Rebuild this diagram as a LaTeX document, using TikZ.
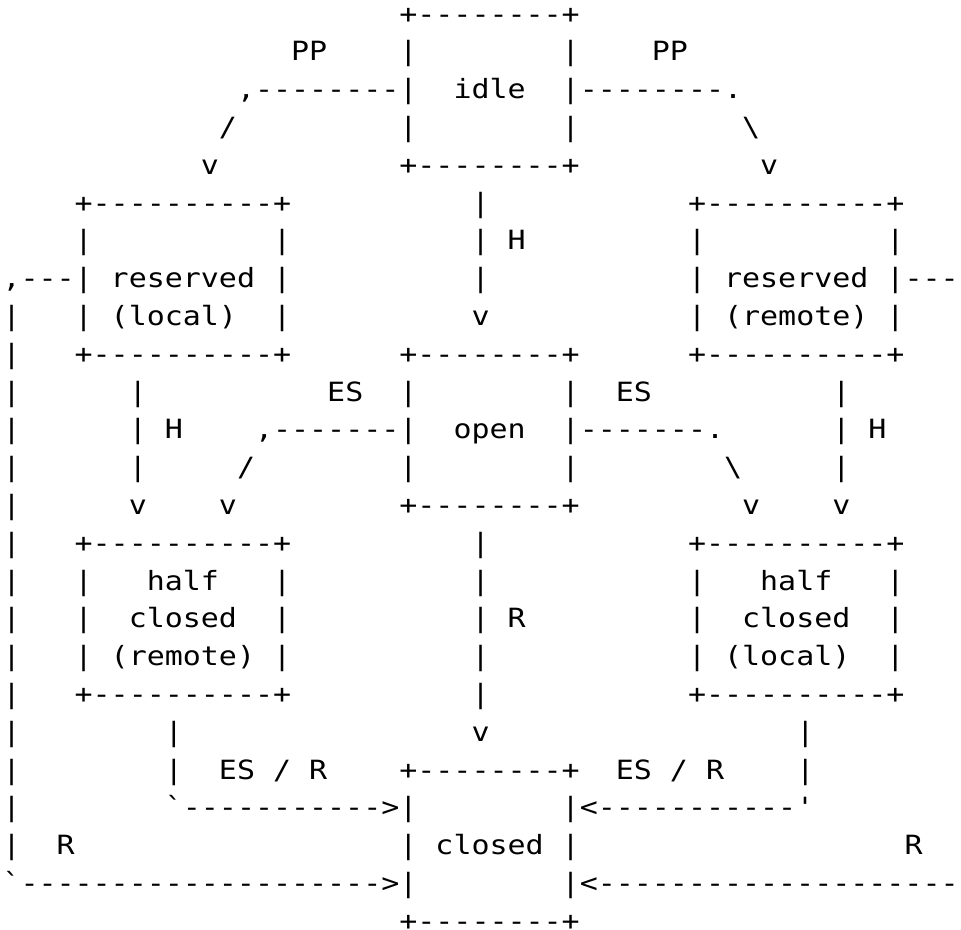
\documentclass[tikz,border=0pt]{standalone}
\usepackage{fontspec}
% monospaced face, widened so that one cell is 18.04pt
\setmonofont{DejaVu Sans Mono}[FakeStretch=1.1307]

% grid of the character cells: left edge, cell width, first baseline, line pitch
\newcommand\colzero{2.5}
\newcommand\colw{18.04}
\newcommand\rowzero{905.8}
\newcommand\rowh{37.8}
% \asc{row}{column}{characters}: one run of characters on the grid
\newcommand\asc[3]{\node[ascii] (r#1c#2) at ({\colzero+#2*\colw},{\rowzero-(#1-1)*\rowh}) {#3};}

\begin{document}
\begin{tikzpicture}[x=1pt,y=1pt,
  ascii/.style={anchor=base west,inner sep=0pt,outer sep=0pt,
    font=\ttfamily\fontsize{26.5}{30}\selectfont,text=black}]
\fill[white] (0,0) rectangle (961,929);
\useasboundingbox (0,0) rectangle (961,929);

% idle
\asc{1}{22}{+--------+}
\asc{2}{16}{PP}\asc{2}{22}{|}\asc{2}{31}{|}\asc{2}{36}{PP}
\asc{3}{13}{,--------|}\asc{3}{25}{idle}\asc{3}{31}{|--------.}
\asc{4}{12}{/}\asc{4}{22}{|}\asc{4}{31}{|}\asc{4}{41}{\textbackslash}
\asc{5}{11}{v}\asc{5}{22}{+--------+}\asc{5}{42}{v}

% reserved (local) / reserved (remote)
\asc{6}{4}{+----------+}\asc{6}{26}{|}\asc{6}{38}{+----------+}
\asc{7}{4}{|}\asc{7}{15}{|}\asc{7}{26}{|}\asc{7}{28}{H}\asc{7}{38}{|}\asc{7}{49}{|}
\asc{8}{0}{,---|}\asc{8}{6}{reserved}\asc{8}{15}{|}\asc{8}{26}{|}\asc{8}{38}{|}\asc{8}{40}{reserved}\asc{8}{49}{|---}
\asc{9}{0}{|}\asc{9}{4}{|}\asc{9}{6}{(local)}\asc{9}{15}{|}\asc{9}{26}{v}\asc{9}{38}{|}\asc{9}{40}{(remote)}\asc{9}{49}{|}
\asc{10}{0}{|}\asc{10}{4}{+----------+}\asc{10}{22}{+--------+}\asc{10}{38}{+----------+}

% open
\asc{11}{0}{|}\asc{11}{7}{|}\asc{11}{18}{ES}\asc{11}{22}{|}\asc{11}{31}{|}\asc{11}{34}{ES}\asc{11}{46}{|}
\asc{12}{0}{|}\asc{12}{7}{|}\asc{12}{9}{H}\asc{12}{14}{,-------|}\asc{12}{25}{open}\asc{12}{31}{|-------.}\asc{12}{46}{|}\asc{12}{48}{H}
\asc{13}{0}{|}\asc{13}{7}{|}\asc{13}{13}{/}\asc{13}{22}{|}\asc{13}{31}{|}\asc{13}{40}{\textbackslash}\asc{13}{46}{|}
\asc{14}{0}{|}\asc{14}{7}{v}\asc{14}{12}{v}\asc{14}{22}{+--------+}\asc{14}{41}{v}\asc{14}{46}{v}

% half closed (remote) / half closed (local)
\asc{15}{0}{|}\asc{15}{4}{+----------+}\asc{15}{26}{|}\asc{15}{38}{+----------+}
\asc{16}{0}{|}\asc{16}{4}{|}\asc{16}{8}{half}\asc{16}{15}{|}\asc{16}{26}{|}\asc{16}{38}{|}\asc{16}{42}{half}\asc{16}{49}{|}
\asc{17}{0}{|}\asc{17}{4}{|}\asc{17}{7}{closed}\asc{17}{15}{|}\asc{17}{26}{|}\asc{17}{28}{R}\asc{17}{38}{|}\asc{17}{41}{closed}\asc{17}{49}{|}
\asc{18}{0}{|}\asc{18}{4}{|}\asc{18}{6}{(remote)}\asc{18}{15}{|}\asc{18}{26}{|}\asc{18}{38}{|}\asc{18}{40}{(local)}\asc{18}{49}{|}
\asc{19}{0}{|}\asc{19}{4}{+----------+}\asc{19}{26}{|}\asc{19}{38}{+----------+}

% closed
\asc{20}{0}{|}\asc{20}{9}{|}\asc{20}{26}{v}\asc{20}{44}{|}
\asc{21}{0}{|}\asc{21}{9}{|}\asc{21}{12}{ES}\asc{21}{15}{/}\asc{21}{17}{R}\asc{21}{22}{+--------+}\asc{21}{34}{ES}\asc{21}{37}{/}\asc{21}{39}{R}\asc{21}{44}{|}
\asc{22}{0}{|}\asc{22}{9}{`----------->|}\asc{22}{31}{|<-----------'}
\asc{23}{0}{|}\asc{23}{3}{R}\asc{23}{22}{|}\asc{23}{24}{closed}\asc{23}{31}{|}\asc{23}{50}{R}
\asc{24}{0}{`-------------------->|}\asc{24}{31}{|<--------------------}
\asc{25}{22}{+--------+}
\end{tikzpicture}
\end{document}
